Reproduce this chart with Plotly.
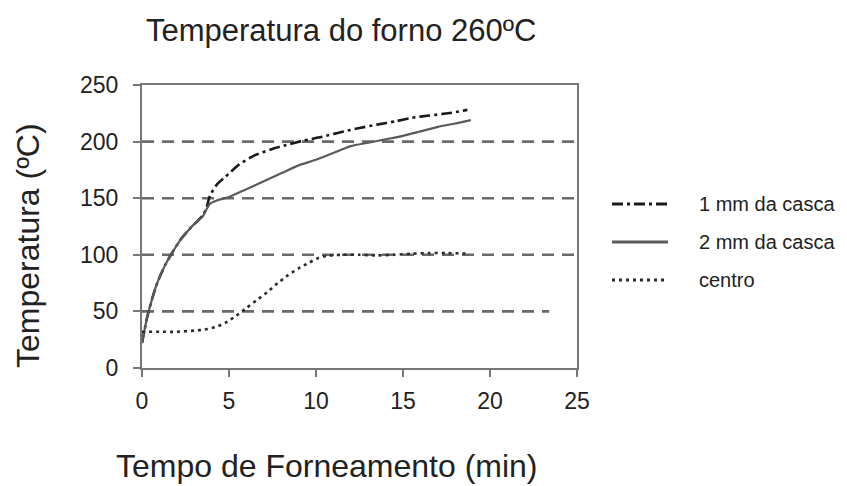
import plotly.graph_objects as go

# ---------------- data ----------------
t_1mm = [0, 0.3, 0.6, 0.9, 1.3, 1.7, 2.2, 2.8, 3.2, 3.5, 3.7, 3.9, 4.3, 4.8, 5.6, 6.5, 7.4, 8.3,
         9.3, 10.3, 11.6, 12.5, 13.5, 14.6, 15.5, 16.5, 17.6, 18.7]
T_1mm = [22, 45, 62, 76, 90, 101, 113, 124, 130, 135, 141, 152, 162, 169, 180, 188, 193, 197,
         201, 204, 209, 212, 215, 218, 221, 223, 225, 228]

t_2mm = [0, 0.3, 0.6, 0.9, 1.3, 1.7, 2.2, 2.8, 3.2, 3.5, 3.7, 3.9, 4.3, 5.0, 6.0, 7.0, 8.0, 9.0,
         10.0, 11.0, 12.0, 13.0, 14.0, 15.0, 16.0, 17.0, 18.0, 18.9]
T_2mm = [22, 45, 62, 76, 90, 101, 113, 124, 130, 134, 140, 145, 148, 151, 158, 165, 172, 179,
         184, 190, 196, 199, 202, 205, 209, 213, 216, 219]

t_centro = [0, 1, 2, 3, 3.6, 4.2, 4.8, 5.4, 6.0, 6.6, 7.2, 7.8, 8.4, 9.0, 9.6, 10.1, 10.6, 11.5,
            12.5, 13.5, 14.5, 15.5, 16.5, 17.5, 18.8]
T_centro = [32, 32, 32, 33, 34, 36, 40, 46, 53, 60, 67, 75, 82, 88, 93, 97, 99, 100,
            100, 99.5, 100, 101, 101.5, 101.5, 101]

series_names = ["1 mm da casca", "2 mm da casca", "centro"]
x_ticks = [0, 5, 10, 15, 20, 25]
y_ticks = [0, 50, 100, 150, 200, 250]
grid_values = [50, 100, 150, 200]
grid_ends = [23.4, 25, 25, 25]

title_text = "Temperatura do forno 260ºC"
x_title = "Tempo de Forneamento (min)"
y_title = "Temperatura (ºC)"

# ---------------- layout constants ----------------
FIG_W, FIG_H = 847, 486
L, R, T, B = 142, 270, 85, 118
PW, PH = FIG_W - L - R, FIG_H - T - B
FONT = "Liberation Sans, Arial, sans-serif"
TXT = "#222222"


def px_x(p):
    return (p - L) / PW


def px_y(p):
    return (FIG_H - B - p) / PH


styles = [
    dict(color="#1a1a1a", width=2.6, dash="11px,4px,3px,4px"),
    dict(color="#5a5a5a", width=2.2, dash="solid"),
    dict(color="#2a2a2a", width=2.6, dash="3px,4px"),
]

fig = go.Figure()
for name, xs, ys, st in zip(series_names, [t_1mm, t_2mm, t_centro],
                            [T_1mm, T_2mm, T_centro], styles):
    fig.add_trace(go.Scatter(x=xs, y=ys, mode="lines", name=name,
                             line=dict(shape="spline", smoothing=0.6, **st),
                             showlegend=False))

shapes = []
for gv, ge in zip(grid_values, grid_ends):
    shapes.append(dict(type="line", xref="x", yref="y", x0=0, x1=ge, y0=gv, y1=gv,
                       line=dict(color="#6a6a6a", width=2.6, dash="12px,8px"), layer="below"))

annotations = []
legend_y = [204, 242, 280]
for name, st, ly in zip(series_names, styles, legend_y):
    shapes.append(dict(type="line", xref="paper", yref="paper",
                       x0=px_x(612), x1=px_x(668), y0=px_y(ly), y1=px_y(ly),
                       line=dict(color=st["color"], width=3, dash=st["dash"])))
    annotations.append(dict(text=name, xref="paper", yref="paper", x=px_x(697), y=px_y(ly),
                            xanchor="left", yanchor="middle", showarrow=False,
                            font=dict(family=FONT, size=20, color=TXT)))

annotations.append(dict(text=title_text, xref="paper", yref="paper", x=px_x(341), y=px_y(31),
                        xanchor="center", yanchor="middle", showarrow=False,
                        font=dict(family=FONT, size=31, color=TXT)))
annotations.append(dict(text=x_title, xref="paper", yref="paper", x=px_x(327), y=px_y(466),
                        xanchor="center", yanchor="middle", showarrow=False,
                        font=dict(family=FONT, size=32, color=TXT)))
annotations.append(dict(text=y_title, xref="paper", yref="paper", x=px_x(28), y=px_y(245),
                        xanchor="center", yanchor="middle", showarrow=False, textangle=-90,
                        font=dict(family=FONT, size=32, color=TXT)))

axis_common = dict(showgrid=False, zeroline=False, showline=True, mirror=True,
                   linecolor="#777777", linewidth=2, ticks="outside", ticklen=7,
                   tickcolor="#777777", tickwidth=2,
                   tickfont=dict(family=FONT, size=23, color=TXT))

fig.update_layout(
    width=FIG_W, height=FIG_H,
    margin=dict(l=L, r=R, t=T, b=B),
    paper_bgcolor="white", plot_bgcolor="white",
    xaxis=dict(range=[0, 25], tickvals=x_ticks, ticktext=[str(v) for v in x_ticks],
               ticklabelstandoff=4, **axis_common),
    yaxis=dict(range=[0, 250], tickvals=y_ticks, ticktext=[str(v) for v in y_ticks],
               ticklabelstandoff=10, **axis_common),
    shapes=shapes, annotations=annotations, showlegend=False,
)

fig.write_html("out.html")
